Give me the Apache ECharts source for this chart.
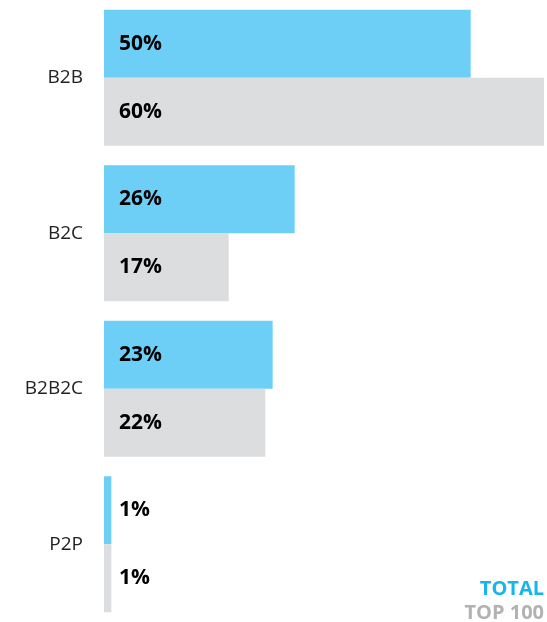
<!DOCTYPE html>
<html>
<head>
<meta charset="utf-8">
<script src="https://cdn.jsdelivr.net/npm/echarts@6/dist/echarts.min.js"></script>
<style>
html,body{margin:0;padding:0;background:#fff;}
#chart{width:547px;height:622px;}
</style>
</head>
<body>
<div id="chart"></div>
<script>
const categories = ['B2B', 'B2C', 'B2B2C', 'P2P'];
const totalValues = [50, 26, 23, 1];
const top100Values = [60, 17, 22, 1];
const seriesNames = ['TOTAL', 'TOP 100'];

const FONT = '"Open Sans", "Noto Sans", sans-serif';
const chart = echarts.init(document.getElementById('chart'));

const labelStyle = {
  show: true,
  position: 'insideLeft',
  distance: 15,
  formatter: p => p.value + '%',
  color: '#000',
  fontWeight: 'bold',
  fontSize: 21,
  fontFamily: FONT
};

chart.setOption({
  animation: false,
  backgroundColor: '#fff',
  grid: { left: 104, right: 3, top: -2, height: 630, containLabel: false },
  legend: [
    {
      data: [{ name: seriesNames[0], textStyle: { color: '#17b6ea' } }],
      right: 0, top: 579, icon: 'none', itemWidth: 0, itemHeight: 0, itemGap: 0,
      padding: [0, 3, 0, 0], selectedMode: false,
      textStyle: { fontSize: 20, fontWeight: 'bold', fontFamily: FONT, padding: 0 }
    },
    {
      data: [{ name: seriesNames[1], textStyle: { color: '#b2b2b2' } }],
      right: 0, top: 603, icon: 'none', itemWidth: 0, itemHeight: 0, itemGap: 0,
      padding: [0, 3, 0, 0], selectedMode: false,
      textStyle: { fontSize: 20, fontWeight: 'bold', fontFamily: FONT, padding: 0 }
    }
  ],
  xAxis: {
    type: 'value', min: 0, max: 60, show: false
  },
  yAxis: {
    type: 'category',
    data: categories,
    inverse: true,
    axisLine: { show: false },
    axisTick: { show: false },
    splitLine: { show: false },
    axisLabel: { color: '#222', fontSize: 19, fontFamily: FONT, margin: 21 }
  },
  series: [
    {
      name: seriesNames[0], type: 'bar', data: totalValues,
      barWidth: 68, barGap: '0%',
      itemStyle: { color: '#6dcff6' },
      label: labelStyle
    },
    {
      name: seriesNames[1], type: 'bar', data: top100Values,
      barWidth: 68, barGap: '0%',
      itemStyle: { color: '#dcdddf' },
      label: labelStyle
    }
  ]
});
</script>
</body>
</html>
